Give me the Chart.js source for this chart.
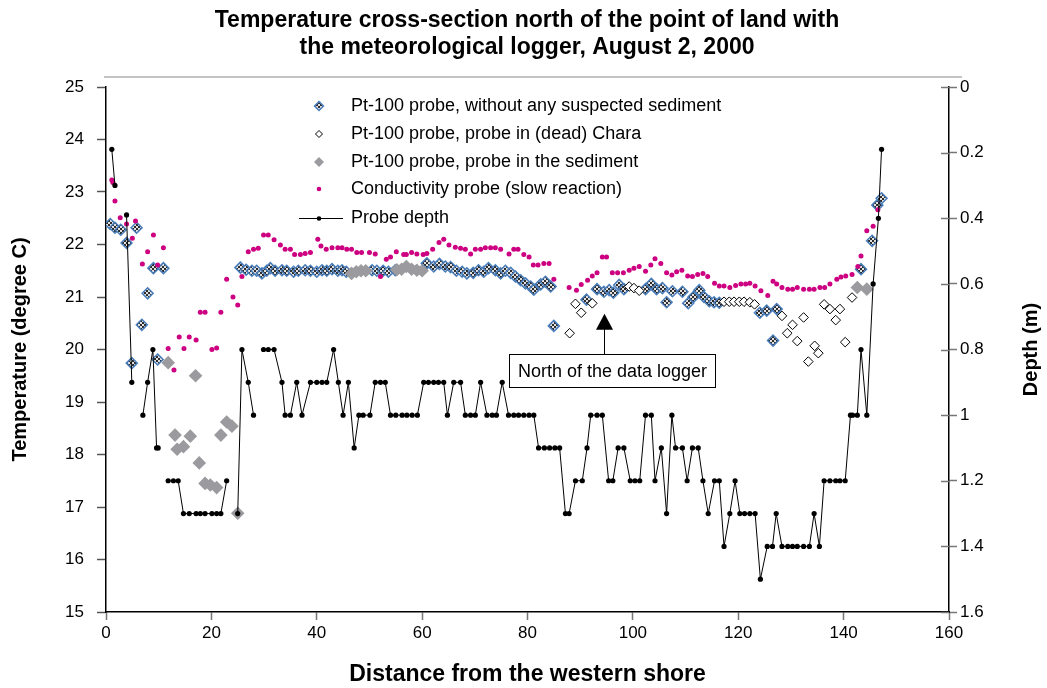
<!DOCTYPE html>
<html>
<head>
<meta charset="utf-8">
<title>Temperature cross-section, August 2, 2000</title>
<script src="https://cdn.jsdelivr.net/npm/chart.js@4/dist/chart.umd.min.js"></script>
<style>
  html, body { margin: 0; padding: 0; background: #fff; }
  #wrap { width: 1047px; height: 688px; }
</style>
</head>
<body>
<div id="wrap"><canvas id="chart" width="1047" height="688"></canvas></div>
<script>
// Pt-100 probe, without any suspected sediment
const bareX = [0.8, 1.7, 2.8, 3.9, 4.9, 5.8, 6.8, 7.9, 9.0, 9.8, 10.9,
  25.5, 26.6, 27.7, 28.6, 29.6, 30.5, 31.2, 32.1, 33.4, 34.3, 35.6, 36.5, 37.8, 38.8, 40.0, 41.0, 41.9, 42.9, 44.0, 44.8, 45.6,
  50.5, 51.4, 52.6, 53.6, 54.9,
  60.9, 62.2, 63.3, 64.4, 65.4, 66.5, 67.6, 68.5, 69.7, 70.7, 71.7, 72.6, 73.9, 74.9, 75.8, 76.8, 77.7, 78.7, 79.6, 80.6, 81.2, 82.5, 83.4, 84.4, 85.0,
  91.2, 93.2, 94.5, 95.5, 96.3, 97.4, 98.3, 102.4, 103.5, 104.5, 105.6, 106.4, 107.5, 109.4, 110.5, 111.5, 112.6, 113.5, 114.5, 115.4, 116.4, 124.1, 125.4, 126.6, 127.3,
  143.3, 145.4, 146.4, 147.2];
const bareT = [22.39, 22.32, 22.28, 22.03, 19.74, 22.32, 20.47, 21.07, 21.55, 19.81, 21.55,
  21.56, 21.52, 21.50, 21.50, 21.45, 21.50, 21.55, 21.50, 21.51, 21.50, 21.48, 21.50, 21.51, 21.50, 21.48, 21.51, 21.50, 21.53, 21.50, 21.51, 21.48,
  21.51, 21.50, 21.50, 21.48, 21.51,
  21.64, 21.58, 21.63, 21.58, 21.57, 21.50, 21.48, 21.45, 21.46, 21.51, 21.48, 21.55, 21.51, 21.45, 21.50, 21.46, 21.39, 21.32, 21.26, 21.20, 21.14, 21.24, 21.29, 21.20, 20.45,
  20.95, 21.15, 21.10, 21.13, 21.08, 21.23, 21.15, 21.15, 21.25, 21.15, 21.17, 20.90, 21.11, 21.10, 20.88, 21.00, 21.13, 21.00, 20.92, 20.90, 20.89, 20.70, 20.74, 20.17, 20.77,
  21.53, 22.07, 22.75, 22.88];

// Pt-100 probe, probe in (dead) Chara
const charaX = [88.0, 89.1, 90.2, 92.3, 99.3, 100.2, 101.2, 117.3, 118.3, 119.2, 120.2, 121.1, 122.2, 123.1,
  128.3, 129.3, 130.3, 131.2, 132.4, 133.3, 134.5, 135.2, 136.3, 137.4, 138.5, 139.3, 140.3, 141.6];
const charaT = [20.31, 20.87, 20.70, 20.88, 21.20, 21.17, 21.12, 20.91, 20.91, 20.91, 20.91, 20.91, 20.90, 20.86,
  20.64, 20.31, 20.47, 20.16, 20.61, 19.77, 20.07, 19.93, 20.86, 20.77, 20.56, 20.77, 20.14, 20.99];

// Pt-100 probe, probe in the sediment
const sedX = [11.8, 13.1, 13.5, 14.7, 16.0, 17.0, 17.7, 18.8, 19.8, 21.0, 21.8, 22.9, 23.9, 25.0,
  46.6, 47.5, 48.4, 49.3, 55.2, 56.1, 57.0, 58.0, 59.0, 60.0, 142.6, 144.4];
const sedT = [19.75, 18.37, 18.10, 18.15, 18.35, 19.50, 17.84, 17.45, 17.42, 17.37, 18.37, 18.62, 18.54, 16.88,
  21.45, 21.48, 21.50, 21.50, 21.52, 21.53, 21.58, 21.53, 21.51, 21.50, 21.18, 21.15];

// Conductivity probe (slow reaction)
const condX = [1.1, 1.3, 1.7, 2.7, 3.9, 5.0, 5.6, 6.9, 7.9, 9.0, 9.8, 10.9, 11.8, 12.9, 13.9, 14.8, 15.8, 17.1, 17.9, 18.8,
  20.1, 21.0, 21.8, 22.9, 24.1, 25.0, 25.8, 27.0, 28.0, 28.9, 29.9, 30.8, 31.9, 33.1, 34.0, 35.0, 35.8, 36.9, 37.8, 38.8,
  40.2, 40.8, 41.8, 42.9, 44.0, 44.8, 45.7, 46.6, 47.6, 48.5, 50.0, 51.1, 52.1, 53.2, 54.0, 55.1, 56.5, 57.0, 58.0, 59.0,
  60.2, 60.9, 62.0, 63.2, 64.1, 65.1, 66.3, 67.3, 68.2, 69.2, 70.1, 71.1, 72.0, 73.0, 73.9, 74.9, 76.5, 77.4, 78.2, 79.3,
  80.3, 81.1, 82.0, 83.1, 84.1, 85.0, 87.9, 89.3, 90.2, 91.4, 92.3, 93.2, 94.2, 95.0, 96.1, 97.1, 98.2, 99.3,
  100.2, 101.2, 102.4, 103.4, 104.2, 105.3, 106.4, 107.4, 108.3, 109.3, 110.4, 111.3, 112.3, 113.3, 114.2, 115.5, 116.4, 117.3, 118.4, 119.5,
  120.5, 121.4, 122.2, 123.2, 124.3, 125.6, 126.6, 127.3, 128.3, 129.4, 130.3, 131.2, 132.4, 133.5, 134.4, 135.5, 136.4, 137.4, 138.7, 139.5,
  140.4, 141.6, 142.7, 143.3, 144.4, 145.6, 146.5];
const condT = [23.23, 23.18, 22.83, 22.51, 22.39, 22.12, 22.45, 21.63, 21.86, 22.18, 21.61, 21.94, 20.02, 19.61, 20.24, 20.02, 20.24, 20.18, 20.71, 20.71,
  20.00, 20.03, 20.71, 21.34, 21.00, 20.85, 21.39, 21.86, 21.91, 21.93, 22.18, 22.18, 22.09, 21.99, 21.91, 21.91, 21.81, 21.81, 21.83, 21.85,
  22.10, 21.97, 21.91, 21.94, 21.94, 21.94, 21.91, 21.91, 21.85, 21.85, 21.85, 21.82, 21.39, 21.72, 21.76, 21.86, 21.81, 21.81, 21.85, 21.82,
  21.81, 21.83, 21.91, 22.04, 22.10, 21.99, 21.95, 21.93, 21.91, 21.82, 21.91, 21.91, 21.94, 21.94, 21.94, 21.91, 21.82, 21.91, 21.91, 21.81,
  21.76, 21.61, 21.61, 21.64, 21.64, 21.34, 21.18, 21.13, 21.24, 21.32, 21.40, 21.46, 21.76, 21.76, 21.46, 21.46, 21.46, 21.51,
  21.55, 21.58, 21.49, 21.61, 21.73, 21.64, 21.46, 21.42, 21.48, 21.51, 21.40, 21.39, 21.43, 21.45, 21.39, 21.26, 21.21, 21.21, 21.18, 21.22,
  21.25, 21.25, 21.26, 21.21, 21.12, 21.03, 21.30, 21.25, 21.18, 21.15, 21.15, 21.18, 21.15, 21.15, 21.15, 21.18, 21.18, 21.25, 21.34, 21.38,
  21.40, 21.43, 21.58, 21.78, 22.26, 22.35, 22.66];

// Probe depth (right axis); null breaks the line where stations were skipped
const depthX = [1.1, 1.7, 2.8, 3.9, 4.9, 6.0, 7.0, 7.9, 8.9, 9.6, 9.9, 10.9, 11.8, 12.8, 13.7, 14.7, 15.8, 17.1, 17.9, 18.8,
  20.1, 21.0, 21.8, 22.9, 24.0, 25.0, 25.8, 27.0, 28.0, 29.0, 29.9, 30.8, 31.9, 33.4, 34.0, 35.0, 36.2, 37.2, 38.8,
  40.0, 41.0, 41.9, 43.2, 44.1, 45.0, 46.0, 47.1, 48.0, 48.8, 50.1, 51.1, 52.1, 53.0, 54.0, 55.0, 56.2, 57.1, 58.1, 59.1,
  60.3, 61.2, 62.2, 63.1, 64.1, 64.8, 66.0, 67.3, 68.2, 69.2, 70.1, 71.1, 72.3, 73.3, 74.1, 75.2, 76.4, 77.4, 78.3, 79.3,
  80.3, 81.2, 82.1, 83.2, 84.2, 85.2, 86.1, 87.2, 87.9, 89.1, 90.4, 91.3, 92.0, 93.2, 94.2, 95.4, 96.2, 97.2, 98.3, 99.5,
  100.4, 101.3, 102.4, 103.5, 104.2, 105.4, 106.4, 107.4, 108.1, 109.4, 110.3, 111.3, 112.4, 113.3, 114.3, 115.5, 116.4, 117.3, 118.4, 119.4,
  120.3, 121.2, 122.2, 123.2, 124.2, 125.5, 126.5, 127.2, 128.3, 129.4, 130.3, 131.2, 132.4, 133.5, 134.4, 135.4, 136.3, 137.4, 138.5, 139.3,
  140.3, 141.3, 141.7, 142.6, 143.3, 144.4, 145.6, 146.6, 147.2];
const depthM = [0.19, 0.30, null, 0.39, 0.90, null, 1.00, 0.90, 0.80, 1.10, 1.10, null, 1.20, 1.20, 1.20, 1.30, 1.30, 1.30, 1.30, 1.30,
  1.30, 1.30, 1.30, 1.20, null, 1.30, 0.80, 0.90, 1.00, null, 0.80, 0.80, 0.80, 0.90, 1.00, 1.00, 0.90, 1.00, 0.90,
  0.90, 0.90, 0.90, 0.80, 0.90, 1.00, 0.90, 1.10, 1.00, 1.00, 1.00, 0.90, 0.90, 0.90, 1.00, 1.00, 1.00, 1.00, 1.00, 1.00,
  0.90, 0.90, 0.90, 0.90, 0.90, 1.00, 0.90, 0.90, 1.00, 1.00, 1.00, 0.90, 1.00, 1.00, 1.00, 0.90, 1.00, 1.00, 1.00, 1.00,
  1.00, 1.00, 1.10, 1.10, 1.10, 1.10, 1.10, 1.30, 1.30, 1.20, 1.20, 1.10, 1.00, 1.00, 1.00, 1.20, 1.20, 1.10, 1.10, 1.20,
  1.20, 1.20, 1.00, 1.00, 1.20, 1.10, 1.30, 1.00, 1.10, 1.10, 1.20, 1.10, 1.10, 1.20, 1.30, 1.20, 1.20, 1.40, 1.30, 1.20,
  1.30, 1.30, 1.30, 1.30, 1.50, 1.40, 1.40, 1.30, 1.40, 1.40, 1.40, 1.40, 1.40, 1.40, 1.30, 1.40, 1.20, 1.20, 1.20, 1.20,
  1.20, 1.00, 1.00, 1.00, 0.80, 1.00, 0.60, 0.40, 0.19];

const xTicks = [0, 20, 40, 60, 80, 100, 120, 140, 160];
const tempTicks = [15, 16, 17, 18, 19, 20, 21, 22, 23, 24, 25];
const depthTicks = [0, 0.2, 0.4, 0.6, 0.8, 1.0, 1.2, 1.4, 1.6];

const titleLines = ['Temperature cross-section north of the point of land with',
  'the meteorological logger, August 2, 2000'];
const seriesNames = ['Pt-100 probe, without any suspected sediment', 'Pt-100 probe, probe in (dead) Chara',
  'Pt-100 probe, probe in the sediment', 'Conductivity probe (slow reaction)', 'Probe depth'];
const noteText = 'North of the data logger';

const FONT = '"Liberation Sans", Arial, Helvetica, sans-serif';
const BLUE = '#4a7ebb';
const MAGENTA = '#cc0080';
const SED_GREY = '#9b9b9f';

const pairs = (xs, ys) => xs.map((x, i) => ({ x: x, y: ys[i] }));

const canvas = document.getElementById('chart');
const ctx0 = canvas.getContext('2d');

// small checker tile for the bare-probe diamonds
const tile = document.createElement('canvas');
tile.width = 4; tile.height = 4;
const tg = tile.getContext('2d');
tg.fillStyle = '#e2e2e2'; tg.fillRect(0, 0, 4, 4);
tg.fillStyle = '#2c2c2c'; tg.fillRect(0, 0, 2, 2); tg.fillRect(2, 2, 2, 2);
const checker = ctx0.createPattern(tile, 'repeat');

function diamond(ctx, x, y, r, fill, stroke, lw) {
  ctx.beginPath();
  ctx.moveTo(x, y - r); ctx.lineTo(x + r, y); ctx.lineTo(x, y + r); ctx.lineTo(x - r, y);
  ctx.closePath();
  ctx.fillStyle = fill; ctx.fill();
  if (stroke) { ctx.lineWidth = lw; ctx.strokeStyle = stroke; ctx.stroke(); }
}

const headerPlugin = {
  id: 'header',
  afterDraw(chart) {
    const ctx = chart.ctx;
    ctx.save();
    ctx.fillStyle = '#000';
    ctx.textAlign = 'center';
    ctx.textBaseline = 'middle';
    ctx.font = 'bold 23px ' + FONT;
    ctx.fillText(titleLines[0], 527, 21);
    ctx.fillText(titleLines[1], 527, 48);
    ctx.strokeStyle = '#c4c4c4';
    ctx.lineWidth = 2;
    ctx.beginPath(); ctx.moveTo(104, 77); ctx.lineTo(962, 77); ctx.stroke();

    // right axis title, reading bottom to top
    const area = chart.chartArea;
    ctx.font = 'bold 20px ' + FONT;
    ctx.translate(1031, (area.top + area.bottom) / 2);
    ctx.rotate(-Math.PI / 2);
    ctx.fillText('Depth (m)', 0, 0);
    ctx.restore();
  }
};

// inner half of the tick marks on the depth axis
const crossTicks = {
  id: 'crossTicks',
  afterDraw(chart) {
    const s = chart.scales.y2;
    const ctx = chart.ctx;
    ctx.save();
    ctx.strokeStyle = '#777';
    ctx.lineWidth = 1.5;
    s.ticks.forEach(t => {
      const py = Math.round(s.getPixelForValue(t.value)) + 0.5;
      ctx.beginPath(); ctx.moveTo(s.left - 8, py); ctx.lineTo(s.left, py); ctx.stroke();
    });
    ctx.restore();
  }
};

const legendPlugin = {
  id: 'seriesKey',
  afterDraw(chart) {
    const ctx = chart.ctx;
    const mx = 319, tx = 351;
    const rows = [106, 134, 162, 189, 218];
    ctx.save();
    ctx.font = '18px ' + FONT;
    ctx.textAlign = 'left';
    ctx.textBaseline = 'middle';
    diamond(ctx, mx, rows[0], 4.5, checker, BLUE, 1.5);
    diamond(ctx, mx, rows[1], 3.5, '#fff', '#000', 1);
    diamond(ctx, mx, rows[2], 5, SED_GREY, null, 0);
    ctx.fillStyle = MAGENTA;
    ctx.beginPath(); ctx.arc(mx, rows[3], 2.3, 0, Math.PI * 2); ctx.fill();
    ctx.strokeStyle = '#000'; ctx.lineWidth = 1;
    ctx.beginPath(); ctx.moveTo(299, rows[4] + 0.5); ctx.lineTo(343, rows[4] + 0.5); ctx.stroke();
    ctx.fillStyle = '#000';
    ctx.beginPath(); ctx.arc(mx, rows[4] + 0.5, 2.3, 0, Math.PI * 2); ctx.fill();
    seriesNames.forEach((n, i) => { ctx.fillStyle = '#000'; ctx.fillText(n, tx, rows[i]); });
    ctx.restore();
  }
};

// note box and arrow placed in data units
const notePlugin = {
  id: 'note',
  afterDraw(chart) {
    const sx = chart.scales.x, sy = chart.scales.y, ctx = chart.ctx;
    const ax = Math.round(sx.getPixelForValue(94.6)) + 0.5;
    const tipY = sy.getPixelForValue(20.68);
    const boxTop = Math.round(sy.getPixelForValue(19.91)) + 0.5;
    const cx = sx.getPixelForValue(96.0);
    ctx.save();
    ctx.strokeStyle = '#000'; ctx.lineWidth = 1;
    ctx.beginPath(); ctx.moveTo(ax, boxTop); ctx.lineTo(ax, tipY + 14); ctx.stroke();
    ctx.fillStyle = '#000';
    ctx.beginPath(); ctx.moveTo(ax, tipY); ctx.lineTo(ax + 8.5, tipY + 16); ctx.lineTo(ax - 8.5, tipY + 16); ctx.closePath(); ctx.fill();
    ctx.font = '18px ' + FONT;
    const w = 206, h = 33;
    const bx = Math.round(cx - w / 2) + 0.5;
    ctx.fillStyle = '#fff';
    ctx.fillRect(bx, boxTop, w, h);
    ctx.strokeRect(bx, boxTop, w, h);
    ctx.fillStyle = '#000';
    ctx.textAlign = 'center'; ctx.textBaseline = 'middle';
    ctx.fillText(noteText, bx + w / 2, boxTop + h / 2 + 1);
    ctx.restore();
  }
};

const tickFont = { family: FONT, size: 17 };

new Chart(canvas, {
  type: 'scatter',
  data: {
    datasets: [
      {
        label: seriesNames[0], data: pairs(bareX, bareT), yAxisID: 'y', order: 5,
        pointStyle: 'rectRot', pointRadius: 5.5, pointBackgroundColor: checker,
        pointBorderColor: BLUE, pointBorderWidth: 1.5, showLine: false
      },
      {
        label: seriesNames[1], data: pairs(charaX, charaT), yAxisID: 'y', order: 4,
        pointStyle: 'rectRot', pointRadius: 4.8, pointBackgroundColor: '#fff',
        pointBorderColor: '#000', pointBorderWidth: 1, showLine: false
      },
      {
        label: seriesNames[2], data: pairs(sedX, sedT), yAxisID: 'y', order: 3,
        pointStyle: 'rectRot', pointRadius: 6.8, pointBackgroundColor: SED_GREY,
        pointBorderWidth: 0, showLine: false
      },
      {
        label: seriesNames[3], data: pairs(condX, condT), yAxisID: 'y', order: 2,
        pointStyle: 'circle', pointRadius: 2.5, pointBackgroundColor: MAGENTA,
        pointBorderWidth: 0, showLine: false
      },
      {
        label: seriesNames[4], data: pairs(depthX, depthM), yAxisID: 'y2', order: 1,
        showLine: true, spanGaps: false, borderColor: '#000', borderWidth: 1,
        pointStyle: 'circle', pointRadius: 2.6, pointBackgroundColor: '#000', pointBorderWidth: 0
      }
    ]
  },
  options: {
    responsive: false,
    animation: false,
    devicePixelRatio: 1,
    layout: { padding: { top: 87, left: 0, right: 0, bottom: 0 } },
    plugins: { legend: { display: false }, tooltip: { enabled: false } },
    scales: {
      x: {
        type: 'linear', position: 'bottom', min: 0, max: 160,
        afterBuildTicks: s => { s.ticks = xTicks.map(v => ({ value: v })); },
        afterFit: s => { s.height = 76; },
        ticks: { font: tickFont, color: '#000', padding: 3 },
        grid: { drawOnChartArea: false, tickLength: 8, tickColor: '#777', tickWidth: 1.5 },
        border: { color: '#000', width: 1.5 },
        title: { display: true, text: 'Distance from the western shore', color: '#000',
          font: { family: FONT, size: 23, weight: 'bold' }, padding: { top: 0, bottom: 0 } }
      },
      y: {
        type: 'linear', position: 'left', min: 15, max: 25,
        afterBuildTicks: s => { s.ticks = tempTicks.map(v => ({ value: v })); },
        afterFit: s => { s.width = 106; },
        ticks: { font: tickFont, color: '#000', padding: 13 },
        grid: { drawOnChartArea: false, tickLength: 9, tickColor: '#555', tickWidth: 1.5 },
        border: { color: '#000', width: 1.5 },
        title: { display: true, text: 'Temperature (degree C)', color: '#000',
          font: { family: FONT, size: 20, weight: 'bold' }, padding: { top: 8, bottom: 0 } }
      },
      y2: {
        type: 'linear', position: 'right', min: 0, max: 1.6, reverse: true,
        afterBuildTicks: s => { s.ticks = depthTicks.map(v => ({ value: v })); },
        afterFit: s => { s.width = 98; },
        ticks: { font: tickFont, color: '#000', padding: 3,
          callback: v => String(Number(v.toFixed(1))) },
        grid: { drawOnChartArea: false, tickLength: 8, tickColor: '#777', tickWidth: 1.5 },
        border: { color: '#000', width: 1.5 }
      }
    }
  },
  plugins: [headerPlugin, crossTicks, legendPlugin, notePlugin]
});
</script>
</body>
</html>
